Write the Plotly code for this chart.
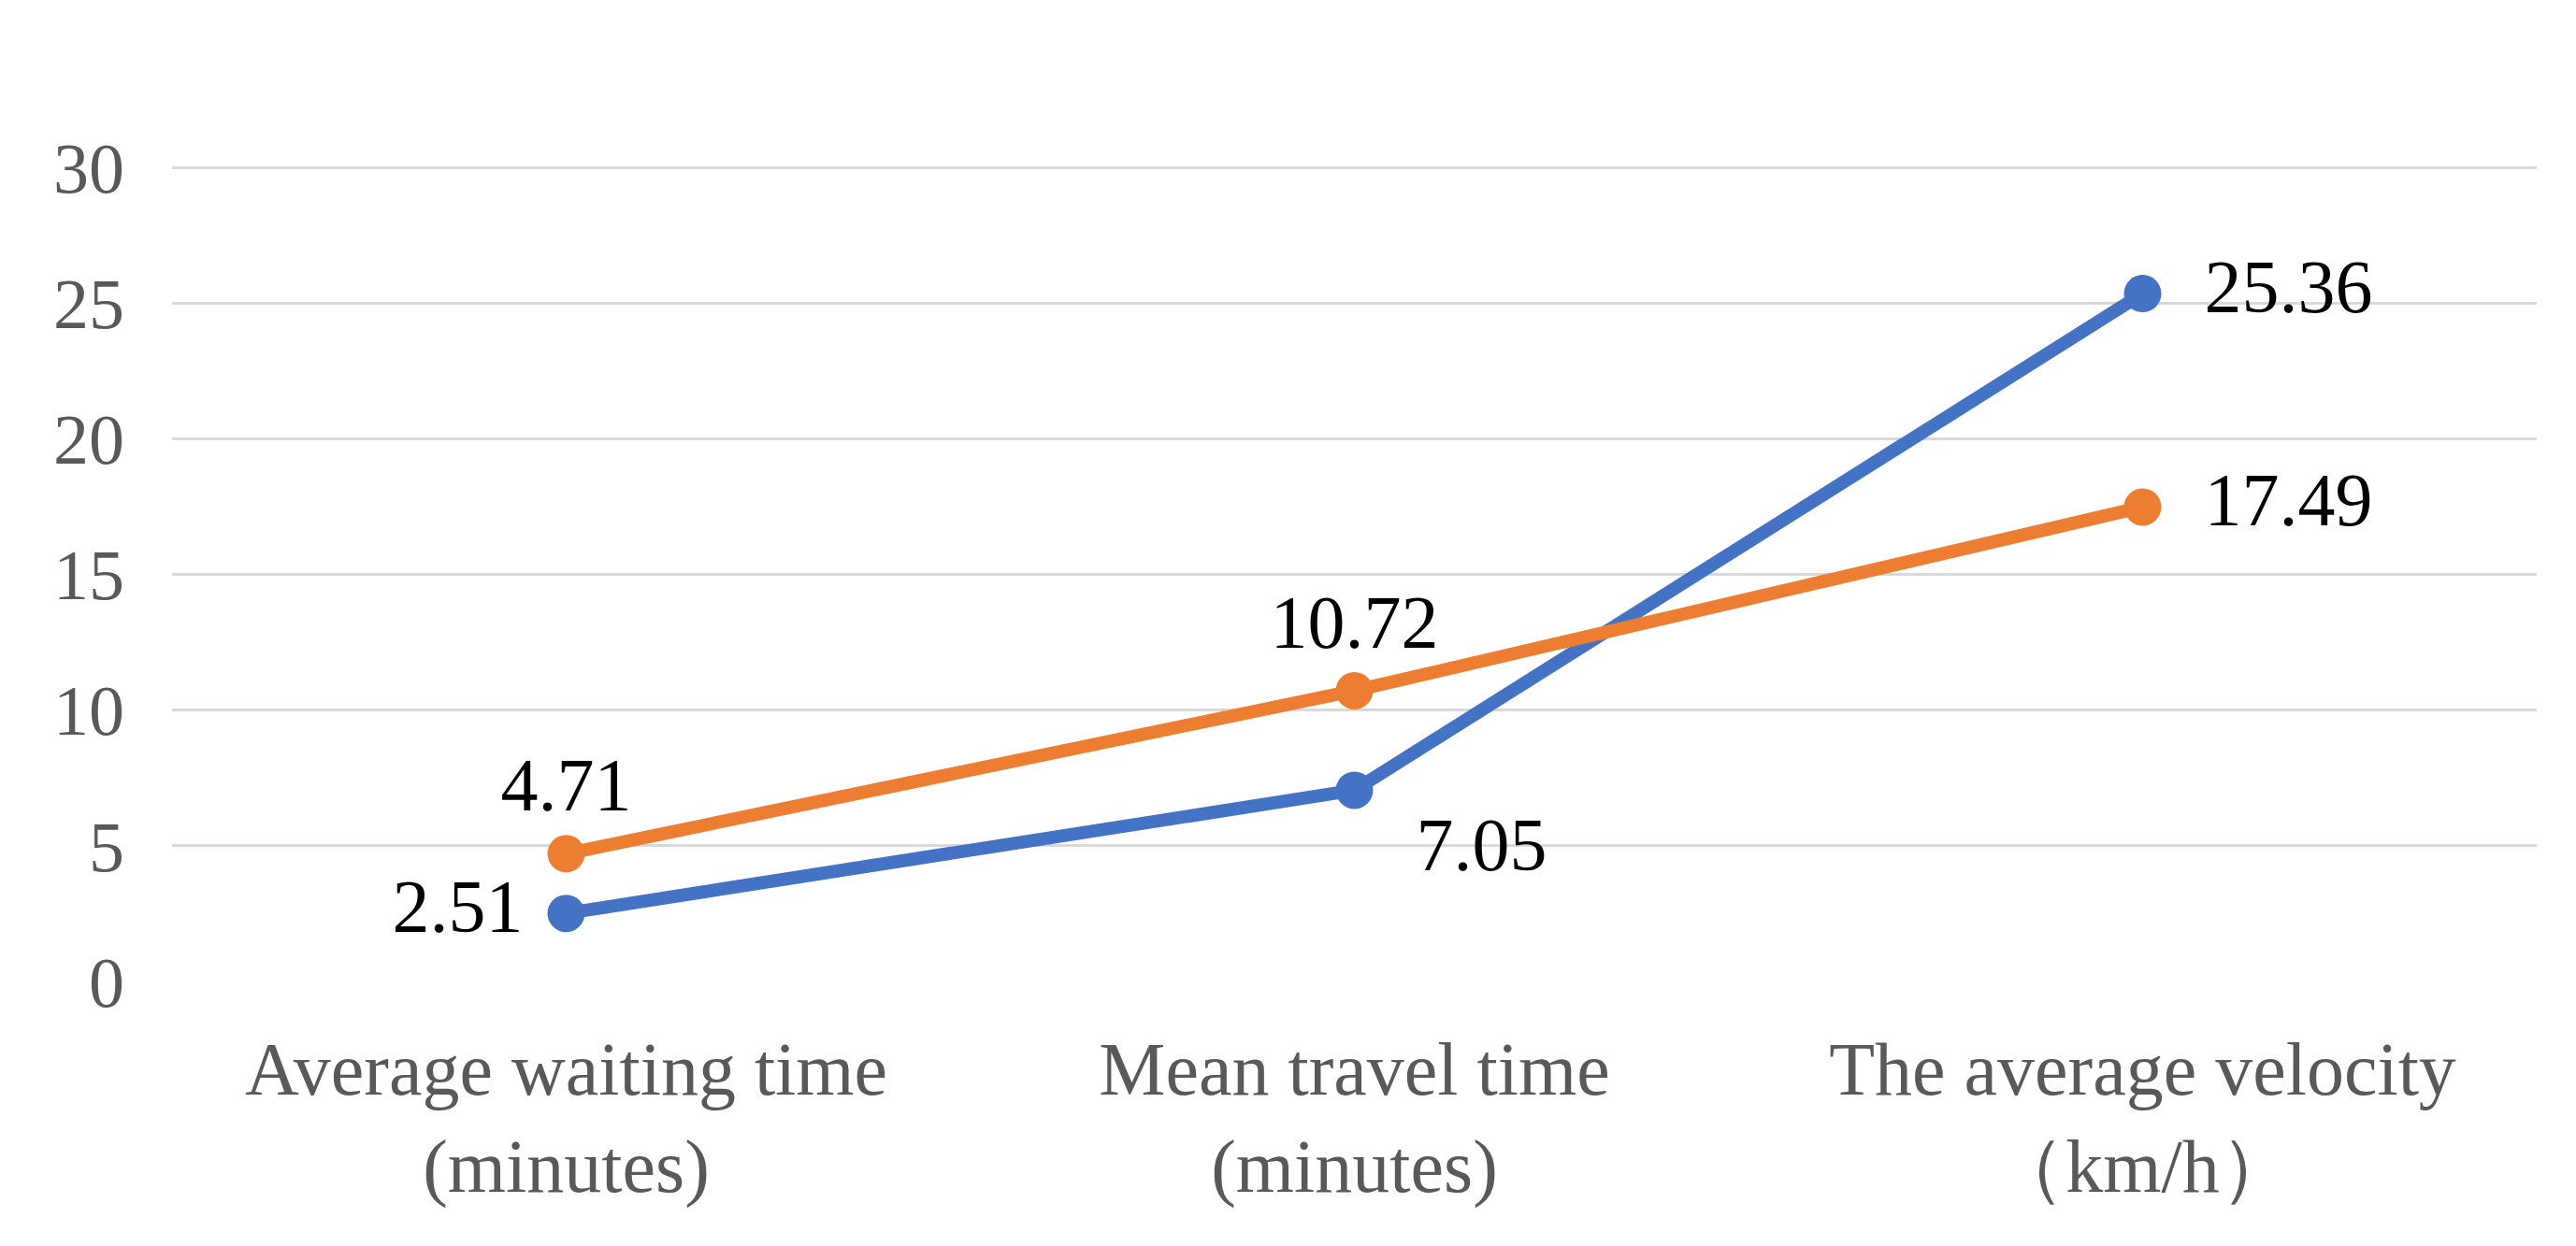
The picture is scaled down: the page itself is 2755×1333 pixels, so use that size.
import plotly.graph_objects as go

categories = ["Average waiting time<br>(minutes)", "Mean travel time<br>(minutes)", "The average velocity<br>（km/h）"]
plan1 = [2.51, 7.05, 25.36]
plan2 = [4.71, 10.72, 17.49]
y_ticks = [0, 5, 10, 15, 20, 25, 30]

font_family = "Liberation Serif, DejaVu Serif, serif"
x_idx = [0, 1, 2]

fig = go.Figure()
fig.add_trace(go.Scatter(
    x=x_idx, y=plan1, name="Plan 1", mode="lines+markers+text",
    line=dict(color="#4472C4", width=14), marker=dict(size=40, color="#4472C4"),
    text=[f"{v:.2f} " for v in plan1[:1]] + [f"  {v:.2f}" for v in plan1[1:]],
    textposition=["middle left", "bottom right", "middle right"],
    textfont=dict(size=80, color="#000000", family=font_family),
))
fig.add_trace(go.Scatter(
    x=x_idx, y=plan2, name="Plan 2", mode="lines+markers+text",
    line=dict(color="#ED7D31", width=14), marker=dict(size=40, color="#ED7D31"),
    text=[f"{v:.2f}" for v in plan2[:2]] + [f"  {v:.2f}" for v in plan2[2:]],
    textposition=["top center", "top center", "middle right"],
    textfont=dict(size=80, color="#000000", family=font_family),
))

fig.update_layout(
    width=2755, height=1333,
    paper_bgcolor="white", plot_bgcolor="white",
    font=dict(family=font_family, size=76, color="#595959"),
    margin=dict(l=176, r=50, t=170, b=291, autoexpand=False),
    showlegend=True,
    legend=dict(orientation="h", x=0.5, xanchor="center", y=1.27, yanchor="middle",
                font=dict(size=78, color="#595959"), itemwidth=100),
    xaxis=dict(tickmode="array", tickvals=x_idx, ticktext=categories,
               range=[-0.5, 2.5], showgrid=False, zeroline=False, showline=False,
               ticks="", tickfont=dict(size=80), ticklabelstandoff=40),
    yaxis=dict(range=[0, 30.05], tickvals=y_ticks, showgrid=True, gridcolor="#D9D9D9",
               gridwidth=3, zeroline=False, showline=False, ticks="", ticklabelstandoff=50),
)

fig.write_html("out.html")
